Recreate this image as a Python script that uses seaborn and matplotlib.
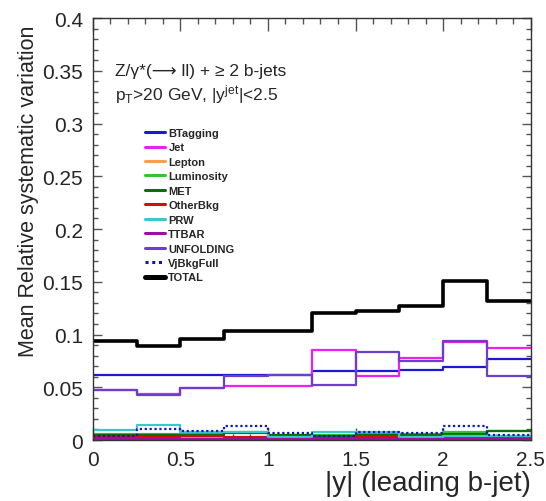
import numpy as np
import pandas as pd
import matplotlib
matplotlib.use("Agg")
import matplotlib.pyplot as plt
import seaborn as sns
from matplotlib.ticker import MultipleLocator
from matplotlib.lines import Line2D

# ---- data ----
bin_edges = [0.0, 0.25, 0.5, 0.75, 1.0, 1.25, 1.5, 1.75, 2.0, 2.25, 2.5]
btagging = [0.062, 0.062, 0.062, 0.062, 0.062, 0.0657, 0.0657, 0.0662, 0.069, 0.0768]
jet = [0.0478, 0.0435, 0.049, 0.0515, 0.0515, 0.0856, 0.0604, 0.0774, 0.093, 0.0872]
lepton = [0.002, 0.002, 0.002, 0.002, 0.002, 0.002, 0.002, 0.002, 0.002, 0.002]
luminosity = [0.006, 0.006, 0.0063, 0.008, 0.005, 0.005, 0.006, 0.0055, 0.0073, 0.0082]
met = [0.005, 0.005, 0.005, 0.0063, 0.005, 0.004, 0.005, 0.005, 0.006, 0.0087]
otherbkg = [0.003, 0.0032, 0.0035, 0.003, 0.003, 0.002, 0.0025, 0.003, 0.002, 0.002]
prw = [0.0095, 0.0145, 0.0078, 0.0078, 0.003, 0.0073, 0.0075, 0.003, 0.004, 0.004]
ttbar = [0.0008, 0.0008, 0.0008, 0.0008, 0.0008, 0.0008, 0.0008, 0.0008, 0.0008, 0.0008]
unfolding = [0.0478, 0.043, 0.049, 0.061, 0.062, 0.0524, 0.0831, 0.0752, 0.0938, 0.0604]
vjbkgfull = [0.0035, 0.0104, 0.0082, 0.013, 0.0063, 0.0035, 0.008, 0.0065, 0.013, 0.005]
total = [0.094, 0.0888, 0.0957, 0.1036, 0.1036, 0.120, 0.122, 0.1273, 0.151, 0.1315]

series_names = ["BTagging", "Jet", "Lepton", "Luminosity", "MET", "OtherBkg",
                "PRW", "TTBAR", "UNFOLDING", "VjBkgFull", "TOTAL"]
series_values = [btagging, jet, lepton, luminosity, met, otherbkg,
                 prw, ttbar, unfolding, vjbkgfull, total]

colors = {"BTagging": "#1a1ad6", "Jet": "#f01ef0", "Lepton": "#f5a050",
          "Luminosity": "#2ec82e", "MET": "#0a6e0a", "OtherBkg": "#d01010",
          "PRW": "#3cc8c8", "TTBAR": "#a0109e", "UNFOLDING": "#6a40c8",
          "VjBkgFull": "#1010d0", "TOTAL": "#000000"}
styles = {"VjBkgFull": (0, (1, 1.2))}
widths = {"TOTAL": 2.6}

sns.set_theme(style="ticks")
plt.rcParams["font.family"] = ["Liberation Sans", "DejaVu Sans"]
plt.rcParams["mathtext.fontset"] = "custom"
plt.rcParams["mathtext.rm"] = "Liberation Sans"
plt.rcParams["mathtext.it"] = "Liberation Sans:italic"

fig = plt.figure(figsize=(5.46, 5.02), dpi=100)
ax = fig.add_axes([0.1698, 0.1215, 0.8022, 0.8405])

rows = []
for name, vals in zip(series_names, series_values):
    xs = list(bin_edges[:-1]) + [bin_edges[-1]]
    ys = list(vals) + [vals[-1]]
    for x, y in zip(xs, ys):
        rows.append({"series": name, "x": x, "y": y})
df = pd.DataFrame(rows)

draw_order = ["Lepton", "Luminosity", "MET", "OtherBkg", "PRW", "VjBkgFull",
              "TTBAR", "BTagging", "Jet", "UNFOLDING", "TOTAL"]
for name in draw_order:
    sub = df[df["series"] == name]
    sns.lineplot(data=sub, x="x", y="y", ax=ax, color=colors[name],
                 linewidth=widths.get(name, 1.6), linestyle=styles.get(name, "-"),
                 drawstyle="steps-post", estimator=None, sort=False, legend=False)

ax.set_xlim(0, 2.5)
ax.set_ylim(0, 0.4)
ax.xaxis.set_major_locator(MultipleLocator(0.5))
ax.xaxis.set_minor_locator(MultipleLocator(0.1))
ax.yaxis.set_major_locator(MultipleLocator(0.05))
ax.yaxis.set_minor_locator(MultipleLocator(0.01))
ax.set_xticks([0, 0.5, 1, 1.5, 2, 2.5])
ax.set_xticklabels(["0", "0.5", "1", "1.5", "2", "2.5"])
ax.set_yticks([0, 0.05, 0.1, 0.15, 0.2, 0.25, 0.3, 0.35, 0.4])
ax.set_yticklabels(["0", "0.05", "0.1", "0.15", "0.2", "0.25", "0.3", "0.35", "0.4"])

ax.tick_params(axis="x", which="major", direction="in", length=9, width=1,
               top=True, labelsize=15, pad=7, color="#555555")
ax.tick_params(axis="x", which="minor", direction="in", length=4.5, width=1,
               top=True, color="#555555")
ax.tick_params(axis="y", which="major", direction="in", length=6.5, width=1,
               right=True, labelsize=15, pad=7, color="#555555")
ax.tick_params(axis="y", which="minor", direction="in", length=3.5, width=1,
               right=True, color="#555555")
for s in ax.spines.values():
    s.set_linewidth(1.0)
    s.set_color("#333333")

ax.set_xlabel("|y| (leading b-jet)", fontsize=20, ha="right")
ax.xaxis.set_label_coords(1.0, -0.07)
ax.set_ylabel("Mean Relative systematic variation", fontsize=15.5, ha="right")
ax.yaxis.set_label_coords(-0.122, 0.985)

ax.text(0.05, 0.865, "Z/γ*(⟶ ll) + ≥ 2 b-jets", transform=ax.transAxes,
        fontsize=12.5, ha="left", va="baseline")
ax.text(0.05, 0.807, r"p$_{\mathrm{T}}$>20 GeV, |y$^{\mathrm{jet}}$|<2.5",
        transform=ax.transAxes, fontsize=12.5, ha="left", va="baseline")

handles = [Line2D([0], [0], color=colors[n], linewidth=widths.get(n, 1.6) + (0.6 if n != "TOTAL" else 1.0),
                  linestyle=styles.get(n, "-")) for n in series_names]
leg = ax.legend(handles, series_names, loc="upper left",
                bbox_to_anchor=(145 / 546, 1 - 129 / 502), bbox_transform=fig.transFigure,
                frameon=False, prop={"weight": "bold", "size": 8},
                handlelength=1.8, handletextpad=0.3, labelspacing=0.40,
                borderpad=0, borderaxespad=0)

fig.savefig("out.png", dpi=100)
